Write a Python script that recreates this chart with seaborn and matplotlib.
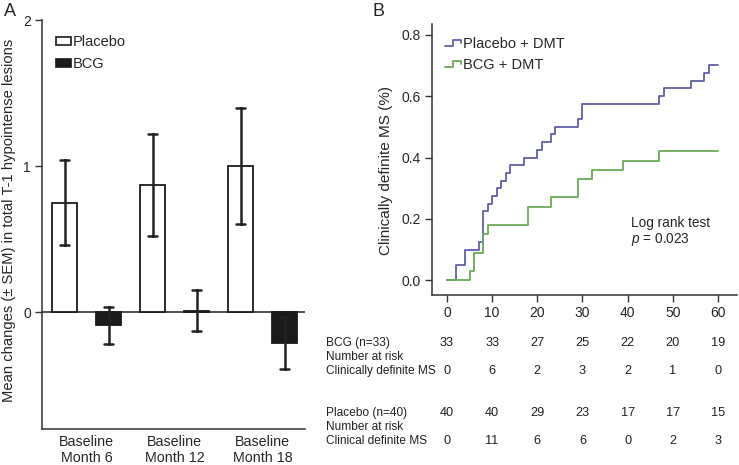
import matplotlib
matplotlib.use('Agg')
import matplotlib.pyplot as plt
import matplotlib.transforms as mtransforms
from matplotlib.lines import Line2D
from matplotlib.patches import Patch
from matplotlib.legend_handler import HandlerLine2D
import pandas as pd
import seaborn as sns

# Panel A data: mean change (+/- SEM) in T-1 hypointense lesions
months = ['Baseline\nMonth 6', 'Baseline\nMonth 12', 'Baseline\nMonth 18']
placebo_mean = [0.75, 0.87, 1.00]
placebo_sem = [0.29, 0.35, 0.40]
bcg_mean = [-0.09, 0.01, -0.21]
bcg_sem = [0.125, 0.14, 0.18]

# Panel B data: Kaplan-Meier step curves (time in months, cumulative proportion)
placebo_t = [0, 2, 4, 7, 8, 9, 10, 11, 12, 13, 14, 17, 20, 21, 23, 24, 29, 30, 47, 48, 54, 57, 58, 60]
placebo_y = [0, 0.05, 0.10, 0.125, 0.225, 0.25, 0.275, 0.30, 0.325, 0.35, 0.375, 0.40, 0.425,
             0.45, 0.475, 0.50, 0.525, 0.575, 0.60, 0.625, 0.65, 0.675, 0.70, 0.70]
bcg_t = [0, 5, 6, 8, 9, 18, 23, 29, 32, 39, 47, 60]
bcg_y = [0, 0.03, 0.09, 0.15, 0.18, 0.24, 0.27, 0.33, 0.36, 0.39, 0.42, 0.42]

# risk table
risk_times = [0, 10, 20, 30, 40, 50, 60]
bcg_at_risk = [33, 33, 27, 25, 22, 20, 19]
bcg_events = [0, 6, 2, 3, 2, 1, 0]
placebo_at_risk = [40, 40, 29, 23, 17, 17, 15]
placebo_events = [0, 11, 6, 6, 0, 2, 3]

sns.set_style('ticks')
plt.rcParams['font.family'] = ['Liberation Sans', 'DejaVu Sans']
plt.rcParams['mathtext.fontset'] = 'custom'
plt.rcParams['mathtext.it'] = 'Liberation Sans:italic'
plt.rcParams['mathtext.rm'] = 'Liberation Sans'

W, H = 739, 465
fig = plt.figure(figsize=(W / 100, H / 100), dpi=100)

# ---------------- Panel A ----------------
axA = fig.add_axes([42 / W, 1 - 429 / H, 263 / W, 409 / H])

rows = []
for m, pm, ps, bm, bs in zip(months, placebo_mean, placebo_sem, bcg_mean, bcg_sem):
    # two rows per bar: the estimator gives the mean, errorbar callable gives the SEM range
    rows.append({'month': m, 'group': 'Placebo', 'value': pm - ps})
    rows.append({'month': m, 'group': 'Placebo', 'value': pm + ps})
    rows.append({'month': m, 'group': 'BCG', 'value': bm - bs})
    rows.append({'month': m, 'group': 'BCG', 'value': bm + bs})
dfA = pd.DataFrame(rows)

sns.barplot(data=dfA, x='month', y='value', hue='group', order=months,
            hue_order=['Placebo', 'BCG'],
            palette={'Placebo': 'white', 'BCG': '#1a1a1a'},
            edgecolor='#1a1a1a', linewidth=1.3, width=1.0, gap=0.43,
            errorbar=lambda v: (v.min(), v.max()), capsize=0.2,
            err_kws={'color': '#222222', 'linewidth': 1.8},
            legend=False, ax=axA)

axA.axhline(0, color='#222222', linewidth=1.1, zorder=0.5)
axA.set_ylim(-0.8, 2.0)
axA.set_xlim(-0.506, 2.48)
axA.set_yticks([0, 1, 2])
axA.set_yticklabels(['0', '1', '2'])
axA.tick_params(axis='y', labelsize=10, length=5, width=1, color='#333333', pad=3)
axA.tick_params(axis='x', labelsize=10.3, length=0, pad=4)
axA.set_xlabel('')
axA.set_ylabel('Mean changes (\u00b1 SEM) in total T-1 hypointense lesions', fontsize=10.6)
axA.yaxis.set_label_coords(-0.098, 0.51)
sns.despine(ax=axA)
for sp in ['left', 'bottom']:
    axA.spines[sp].set_color('#333333')
    axA.spines[sp].set_linewidth(1.1)

handlesA = [Patch(facecolor='white', edgecolor='#1a1a1a', linewidth=1.2, label='Placebo'),
            Patch(facecolor='#1a1a1a', edgecolor='#1a1a1a', linewidth=1.2, label='BCG')]
axA.legend(handles=handlesA, loc='upper left', bbox_to_anchor=(0.02, 0.985), frameon=False,
           fontsize=10.5, handlelength=1.0, handleheight=0.5, handletextpad=0.15,
           labelspacing=0.55, borderaxespad=0.2)

fig.text(4 / W, 1 - 11 / H, 'A', fontsize=13, va='center', ha='left')

# ---------------- Panel B ----------------
axB = fig.add_axes([432 / W, 1 - 295 / H, 305 / W, 271 / H])

dfB = pd.concat([
    pd.DataFrame({'time': placebo_t, 'prop': placebo_y, 'group': 'Placebo + DMT'}),
    pd.DataFrame({'time': bcg_t, 'prop': bcg_y, 'group': 'BCG + DMT'}),
], ignore_index=True)

line_colors = {'Placebo + DMT': '#5f5fa8', 'BCG + DMT': '#6aaa58'}
sns.lineplot(data=dfB, x='time', y='prop', hue='group', palette=line_colors,
             estimator=None, drawstyle='steps-post', linewidth=1.3, legend=False, ax=axB)

axB.set_xlim(-3.3, 64.2)
axB.set_ylim(-0.048, 0.835)
axB.set_xticks(risk_times)
axB.set_yticks([0.0, 0.2, 0.4, 0.6, 0.8])
axB.set_yticklabels(['0.0', '0.2', '0.4', '0.6', '0.8'])
axB.tick_params(labelsize=10, length=5, width=1, color='#333333', pad=3)
axB.set_xlabel('')
axB.set_ylabel('Clinically definite MS (%)', fontsize=11)
axB.yaxis.set_label_coords(-0.128, 0.46)
sns.despine(ax=axB)
for sp in ['left', 'bottom']:
    axB.spines[sp].set_color('#333333')
    axB.spines[sp].set_linewidth(1.1)


class StepHandler(HandlerLine2D):
    def create_artists(self, legend, orig_handle, xdescent, ydescent, width, height, fontsize, trans):
        x0, y0 = -xdescent, -ydescent
        xs = [x0, x0 + 0.5 * width, x0 + 0.5 * width, x0 + width, x0 + width]
        ys = [y0 + 0.25 * height, y0 + 0.25 * height, y0 + 0.8 * height, y0 + 0.8 * height, y0 + 0.55 * height]
        ln = Line2D(xs, ys, color=orig_handle.get_color(), linewidth=orig_handle.get_linewidth())
        ln.set_transform(trans)
        return [ln]


handlesB = [Line2D([], [], color=line_colors[g], linewidth=1.3, label=g)
            for g in ['Placebo + DMT', 'BCG + DMT']]
axB.legend(handles=handlesB, loc='upper left', bbox_to_anchor=(0.0, 1.0), frameon=False,
           fontsize=10.5, handlelength=1.1, handletextpad=0.12, labelspacing=0.5,
           handler_map={Line2D: StepHandler()})

axB.text(0.652, 0.266, 'Log rank test', transform=axB.transAxes, fontsize=9.8, va='center')
axB.text(0.652, 0.203, '$\\it{p}$ = 0.023', transform=axB.transAxes, fontsize=9.8, va='center')

fig.text(372 / W, 1 - 11 / H, 'B', fontsize=13, va='center', ha='left')

# risk table under panel B
tr = mtransforms.blended_transform_factory(axB.transData, fig.transFigure)
row_y = [343, 357, 371, 413, 427, 441]
row_labels = ['BCG (n=33)', 'Number at risk', 'Clinically definite MS',
              'Placebo (n=40)', 'Number at risk', 'Clinical definite MS']
for lab, yy in zip(row_labels, row_y):
    fig.text(326 / W, 1 - yy / H, lab, fontsize=8.6, va='center', ha='left', color='#222222')
for vals, yy in [(bcg_at_risk, 343), (bcg_events, 371), (placebo_at_risk, 413), (placebo_events, 441)]:
    for t, v in zip(risk_times, vals):
        axB.text(t, 1 - yy / H, str(v), transform=tr, fontsize=9.2, va='center', ha='center',
                 color='#222222')

fig.savefig('out.png', dpi=100)
